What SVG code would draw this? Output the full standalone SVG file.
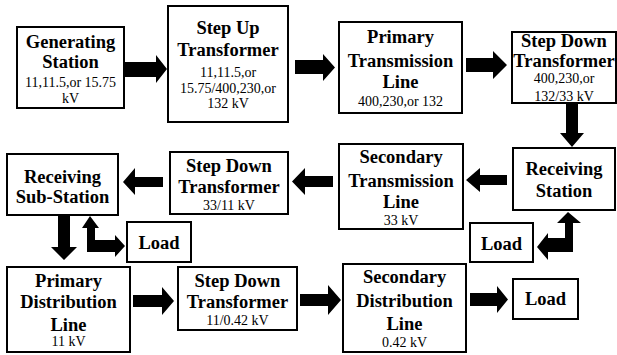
<svg xmlns="http://www.w3.org/2000/svg" width="617" height="355" viewBox="0 0 617 355">
<style>
.box{fill:#fff;stroke:#000;stroke-width:2}
text{font-family:'Liberation Serif','DejaVu Serif',serif;text-anchor:middle;fill:#000}
.b{font-weight:bold;font-size:18.5px}
.n{font-weight:normal;font-size:14px}
.arr{fill:#000;stroke:none}
</style>
<rect width="617" height="355" fill="#fff"/>
<g id="connectors">
<polygon class="arr" points="125,62 156,62 156,55 167,69 156,83 156,77 125,77"/>
<polygon class="arr" points="295,60 323,60 323,54 335,67.5 323,81 323,74 295,74"/>
<polygon class="arr" points="466,58 493,58 493,51 507,65 493,79 493,72 466,72"/>
<polygon class="arr" points="566,103 578,103 578,133 584,133 572,147 560,133 566,133"/>
<polygon class="arr" points="507,175 480,175 480,168 466,180 480,192 480,185 507,185"/>
<polygon class="arr" points="333,176 305,176 305,168 292,181.5 305,195 305,187 333,187"/>
<polygon class="arr" points="163,177 135,177 135,168 123,182 135,195 135,187 163,187"/>
<polygon class="arr" points="58,215 70,215 70,247 77,247 64,260 51,247 58,247"/>
<polygon class="arr" points="90,216 99,228 95,228 95,240 115,240 115,235 125,246 115,257 115,252 87,252 87,228 82,228"/>
<polygon class="arr" points="568,212 581,223 573,223 573,252 548,252 548,260 537,247 548,233 548,238 565,238 565,223 557,223"/>
<polygon class="arr" points="133,295 162,295 162,287 174,301 162,315 162,307 133,307"/>
<polygon class="arr" points="300,294 328,294 328,285 341,300 328,315 328,306 300,306"/>
<polygon class="arr" points="470,293 497,293 497,286 508,299.5 497,313 497,306 470,306"/>
</g>
<g id="generating-station">
<rect class="box" x="17" y="27" width="107" height="81"/>
<text class="b" x="70.5" y="48">Generating</text>
<text class="b" x="70.5" y="68">Station</text>
<text class="n" x="70.5" y="87">11,11.5,or 15.75</text>
<text class="n" x="70.5" y="103">kV</text>
</g>
<g id="step-up-transformer">
<rect class="box" x="168" y="6" width="120" height="116"/>
<text class="b" x="228" y="34">Step Up</text>
<text class="b" x="228" y="56">Transformer</text>
<text class="n" x="228" y="77">11,11.5,or</text>
<text class="n" x="228" y="93">15.75/400,230,or</text>
<text class="n" x="228" y="108">132 kV</text>
</g>
<g id="primary-transmission-line">
<rect class="box" x="339" y="22" width="123" height="91"/>
<text class="b" x="400.5" y="43">Primary</text>
<text class="b" x="400.5" y="67">Transmission</text>
<text class="b" x="400.5" y="88">Line</text>
<text class="n" x="400.5" y="106">400,230,or 132</text>
</g>
<g id="step-down-transformer-1">
<rect class="box" x="512" y="32" width="104" height="71"/>
<text class="b" x="564" y="47">Step Down</text>
<text class="b" x="564" y="67">Transformer</text>
<text class="n" x="564" y="83">400,230,or</text>
<text class="n" x="564" y="101">132/33 kV</text>
</g>
<g id="receiving-station">
<rect class="box" x="513" y="148" width="102" height="62"/>
<text class="b" x="564" y="175">Receiving</text>
<text class="b" x="564" y="197">Station</text>
</g>
<g id="secondary-transmission-line">
<rect class="box" x="339" y="144" width="124" height="85"/>
<text class="b" x="401" y="163">Secondary</text>
<text class="b" x="401" y="187">Transmission</text>
<text class="b" x="401" y="208">Line</text>
<text class="n" x="401" y="225">33 kV</text>
</g>
<g id="step-down-transformer-2">
<rect class="box" x="170" y="152" width="118" height="62"/>
<text class="b" x="229" y="172">Step Down</text>
<text class="b" x="229" y="193">Transformer</text>
<text class="n" x="229" y="210">33/11 kV</text>
</g>
<g id="receiving-sub-station">
<rect class="box" x="7" y="154" width="111" height="61"/>
<text class="b" x="62.5" y="183">Receiving</text>
<text class="b" x="62.5" y="203">Sub-Station</text>
</g>
<g id="load-1">
<rect class="box" x="127" y="222" width="64" height="40"/>
<text class="b" x="159" y="249">Load</text>
</g>
<g id="load-2">
<rect class="box" x="470" y="223" width="63" height="39"/>
<text class="b" x="501.5" y="250">Load</text>
</g>
<g id="primary-distribution-line">
<rect class="box" x="7" y="267" width="123" height="85"/>
<text class="b" x="68.5" y="287">Primary</text>
<text class="b" x="68.5" y="308">Distribution</text>
<text class="b" x="68.5" y="331">Line</text>
<text class="n" x="68.5" y="346">11 kV</text>
</g>
<g id="step-down-transformer-3">
<rect class="box" x="178" y="267" width="119" height="63"/>
<text class="b" x="237.5" y="287">Step Down</text>
<text class="b" x="237.5" y="308">Transformer</text>
<text class="n" x="237.5" y="325">11/0.42 kV</text>
</g>
<g id="secondary-distribution-line">
<rect class="box" x="343" y="264" width="123" height="88"/>
<text class="b" x="404.5" y="283">Secondary</text>
<text class="b" x="404.5" y="307">Distribution</text>
<text class="b" x="404.5" y="330">Line</text>
<text class="n" x="404.5" y="347">0.42 kV</text>
</g>
<g id="load-3">
<rect class="box" x="513" y="279" width="65" height="40"/>
<text class="b" x="545.5" y="305">Load</text>
</g>
</svg>
